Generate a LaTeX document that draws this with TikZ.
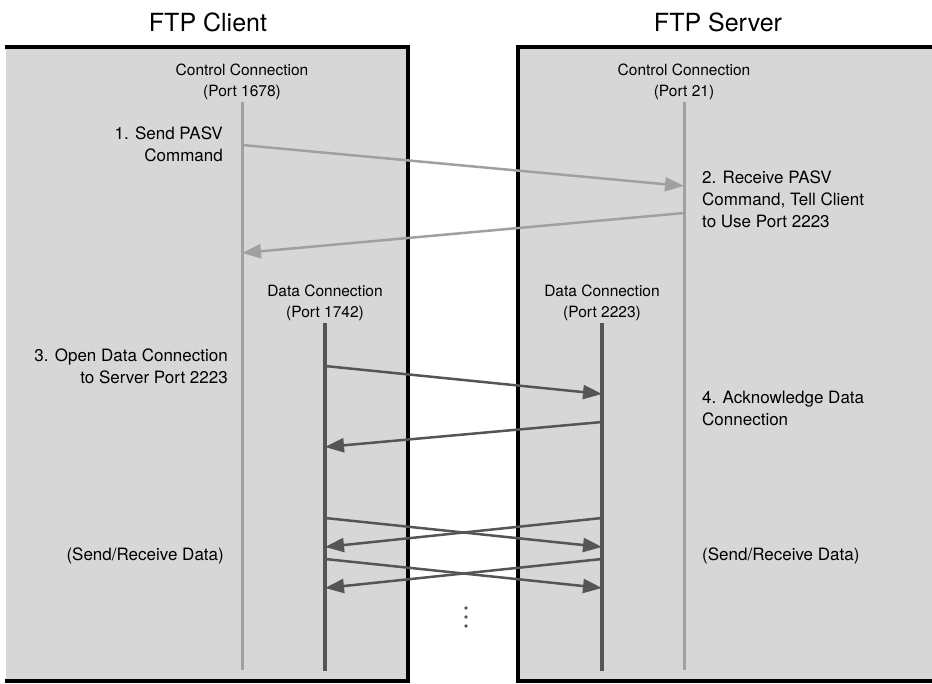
\documentclass[tikz,border=0pt]{standalone}
\usepackage{fontspec}
\setmainfont{TeX Gyre Heros}
\usetikzlibrary{arrows.meta,positioning}
\definecolor{PanelFill}{HTML}{D7D7D7}
\definecolor{CtrlInk}{HTML}{A0A0A0}
\definecolor{DataInk}{HTML}{555555}
\tikzset{
  figure/.style={x=1pt,y=-1pt,font=\fontsize{15.5}{21.5}\selectfont},
  heading/.style={font=\fontsize{25}{30}\selectfont,inner sep=0pt},
  portlabel/.style={align=center,inner sep=0pt},
  steplabel/.style={inner sep=0pt,font=\fontsize{17}{22}\selectfont},
  border/.style={draw=black,line width=3.5pt},
  ctrlline/.style={draw=CtrlInk,line width=3pt},
  dataline/.style={draw=DataInk,line width=3.5pt},
  ctrlmsg/.style={-{Triangle[length=19pt,width=14pt]},draw=CtrlInk,line width=2.5pt},
  datamsg/.style={-{Triangle[length=19pt,width=14pt]},draw=DataInk,line width=2.5pt},
}

\begin{document}
\begin{tikzpicture}[figure]
  \useasboundingbox (0,0) rectangle (932,683);

  % the two hosts
  \fill[PanelFill] (6,47) rectangle (408,681);
  \fill[PanelFill] (518,47) rectangle (932,681);
  \draw[border] (5,47) -- (408,47) -- (408,681) -- (5,681);
  \draw[border] (932,47) -- (518,47) -- (518,681) -- (932,681);

  \node[heading] (client) at (208,22) {FTP Client};
  \node[heading] (server) at (718,22) {FTP Server};

  \node[portlabel] (cctl) at (242,82) {Control Connection\\(Port 1678)};
  \node[portlabel] (sctl) at (684,82) {Control Connection\\(Port 21)};
  \node[portlabel] (cdat) at (325,303) {Data Connection\\(Port 1742)};
  \node[portlabel] (sdat) at (602,303) {Data Connection\\(Port 2223)};

  % lifelines
  \coordinate (cc-top) at (242,102);  \coordinate (cc-bot) at (242,670);
  \coordinate (sc-top) at (684,102);  \coordinate (sc-bot) at (684,670);
  \coordinate (cd-top) at (325,323);  \coordinate (cd-bot) at (325,671);
  \coordinate (sd-top) at (602,323);  \coordinate (sd-bot) at (602,671);
  \draw[ctrlline] (cc-top) -- (cc-bot);
  \draw[ctrlline] (sc-top) -- (sc-bot);
  \draw[dataline] (cd-top) -- (cd-bot);
  \draw[dataline] (sd-top) -- (sd-bot);

  % PASV exchange
  \coordinate (cc-1) at (242,145);  \coordinate (sc-1) at (684,186);
  \coordinate (sc-2) at (684,213);  \coordinate (cc-2) at (242,253);
  \draw[ctrlmsg] (cc-1) -- (sc-1);
  \draw[ctrlmsg] (sc-2) -- (cc-2);

  % data connection set-up
  \coordinate (cd-1) at (325,366);  \coordinate (sd-1) at (602,394);
  \coordinate (sd-2) at (602,422);  \coordinate (cd-2) at (325,447);
  \draw[datamsg] (cd-1) -- (sd-1);
  \draw[datamsg] (sd-2) -- (cd-2);

  % data transfer
  \foreach \i/\y in {3/518,4/559} {
    \coordinate (cd-\i) at (325,\y);     \coordinate (sd-\i) at (602,\y);
    \coordinate (cd-\i r) at (325,\y+29); \coordinate (sd-\i r) at (602,\y+29);
    \draw[datamsg] (cd-\i) -- (sd-\i r);
    \draw[datamsg] (sd-\i) -- (cd-\i r);
  }
  \foreach \y in {608,617,626}
    \fill[DataInk] (466,\y) circle[radius=1.8];

  % steps
  \node[steplabel,anchor=east,align=right] (step1) at (223,144) {1. Send PASV\\Command};
  \node[steplabel,anchor=west,align=left] (step2) at (702,199)
    {2. Receive PASV\\Command, Tell Client\\to Use Port 2223};
  \node[steplabel,anchor=east,align=right] (step3) at (228,366)
    {3. Open Data Connection\\to Server Port 2223};
  \node[steplabel,anchor=west,align=left] (step4) at (702,408)
    {4. Acknowledge Data\\Connection};
  \node[steplabel,anchor=east] (csend) at (224,556) {(Send/Receive Data)};
  \node[steplabel,anchor=west] (ssend) at (702,556) {(Send/Receive Data)};
\end{tikzpicture}
\end{document}
